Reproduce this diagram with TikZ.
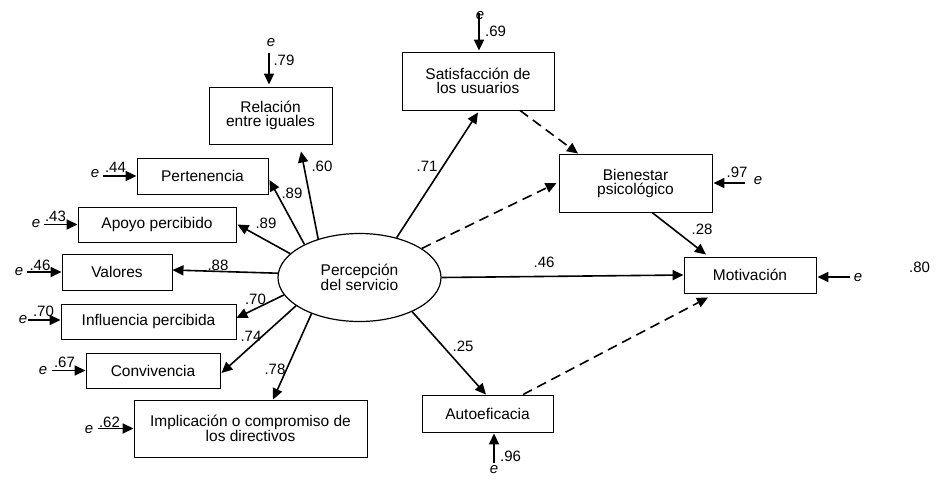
\documentclass[tikz,border=0pt]{standalone}
\usepackage{fontspec}
\setmainfont{Liberation Sans}
\usetikzlibrary{arrows.meta,shapes.geometric}
\begin{document}
\begin{tikzpicture}[x=1pt,y=-1pt,
  box/.style={draw, line width=0.9pt, inner sep=0pt, align=center, font=\fontsize{15.5}{14}\selectfont},
  lbl/.style={inner sep=0pt, font=\fontsize{15}{15}\selectfont},
  evar/.style={inner sep=0pt, font=\itshape\fontsize{15}{15}\selectfont},
  arr/.style={line width=1.6pt, -{Triangle[length=11pt,width=10pt]}},
  darr/.style={arr, dash pattern=on 10pt off 6pt}]
\useasboundingbox[fill=white] (0,0) rectangle (941,485);
% boxes
\node[box, minimum width=123pt, minimum height=57pt] (rel) at (270.5,115.5) {Relación\\entre iguales};
\node[box, minimum width=131pt, minimum height=36pt] (per) at (202.5,176) {Pertenencia};
\node[box, minimum width=158pt, minimum height=35pt] (apo) at (157,224.5) {Apoyo percibido};
\node[box, minimum width=110pt, minimum height=36pt] (val) at (117,272) {Valores};
\node[box, minimum width=175pt, minimum height=35pt] (inf) at (148.5,321.5) {Influencia percibida};
\node[box, minimum width=134pt, minimum height=35pt] (con) at (153,370.5) {Convivencia};
\node[box, minimum width=233pt, minimum height=57pt] (imp) at (250.5,428.5) {Implicación o compromiso de\\los directivos};
\node[box, minimum width=152pt, minimum height=58pt] (sat) at (478,81) {Satisfacción de\\los usuarios};
\node[box, minimum width=153pt, minimum height=58pt] (bie) at (635.5,183) {Bienestar\\psicológico};
\node[box, minimum width=132pt, minimum height=36pt] (mot) at (750,275) {Motivación};
\node[box, minimum width=131pt, minimum height=37pt] (aut) at (487.5,413.5) {Autoeficacia};
\node[box, ellipse, line width=1.2pt, minimum width=163pt, minimum height=88pt] (ell) at (359.5,277.5) {Percepción\\del servicio};
% structural paths
\draw[arr] (ell.137) -- ([xshift=30.5pt,yshift=-7pt]rel.south);
\draw[arr] (ell.149) -- ([xshift=1pt,yshift=-4pt]per.east);
\draw[arr] (ell.161) -- ([xshift=1pt]apo.east);
\draw[arr] (ell.177) -- ([yshift=2pt]val.east);
\draw[arr] (ell.193) -- ([yshift=3.5pt]inf.east);
\draw[arr] (ell.204) -- ([xshift=1pt,yshift=-2.5pt]con.east);
\draw[arr] (ell.217) -- ([xshift=22.5pt]imp.north);
\draw[arr] (ell.47) -- ([yshift=-2pt]sat.south);
\draw[darr] (ell.25) -- ([xshift=-2pt]bie.west);
\draw[darr] ([xshift=42pt]sat.south) -- ([xshift=-57.5pt]bie.north);
\draw[arr] (ell.east) -- (mot.west);
\draw[arr] ([xshift=16.5pt]bie.south) -- ([xshift=-44pt,yshift=2pt]mot.north);
\draw[arr] (ell.327) -- ([xshift=-1.5pt]aut.north);
\draw[darr] ([xshift=35.5pt]aut.north) -- ([xshift=-42pt,yshift=-4pt]mot.south);
% path labels
\node[lbl] (l60) at (322,166) {.60};
\node[lbl] (l89a) at (292,193) {.89};
\node[lbl] (l89b) at (266,223) {.89};
\node[lbl] (l88) at (218,265) {.88};
\node[lbl] (l70) at (255.5,299) {.70};
\node[lbl] (l74) at (251,336) {.74};
\node[lbl] (l78) at (275,369) {.78};
\node[lbl] (l71) at (427,166) {.71};
\node[lbl] (l28) at (702,229) {.28};
\node[lbl] (l46) at (544,262) {.46};
\node[lbl] (l25) at (463,346) {.25};
% error terms
\coordinate (cRel) at (269,53);
\coordinate (cSat) at (479,13);
\coordinate (cPer) at (103,176);
\coordinate (cApo) at (44,224.5);
\coordinate (cVal) at (27,272);
\coordinate (cInf) at (28,320);
\coordinate (cCon) at (52,370.5);
\coordinate (cImp) at (98,428.5);
\coordinate (cBie) at (745,183);
\coordinate (cMot) at (850,277);
\coordinate (cAut) at (494,463);
\draw[arr] (cRel) -- ([xshift=-1.5pt,yshift=2pt]rel.north);
\draw[arr] (cSat) -- ([xshift=1pt,yshift=1pt]sat.north);
\draw[arr] (cPer) -- (per.west);
\draw[arr] (cApo) -- (apo.west);
\draw[arr] (cVal) -- (val.west);
\draw[arr] (cInf) -- ([yshift=1.5pt]inf.west);
\draw[arr] (cCon) -- (con.west);
\draw[arr] (cImp) -- (imp.west);
\draw[arr] (cBie) -- ([xshift=1pt]bie.east);
\draw[arr] (cMot) -- ([xshift=1pt,yshift=-2pt]mot.east);
\draw[arr] (cAut) -- ([xshift=6.5pt,yshift=-1pt]aut.south);
\node[evar] (eRel) at (271,43) {e};
\node[evar] (eSat) at (480,16) {e};
\node[evar] (ePer) at (95,174) {e};
\node[evar] (eApo) at (36,224) {e};
\node[evar] (eVal) at (19,272) {e};
\node[evar] (eInf) at (23,320) {e};
\node[evar] (eCon) at (43,371) {e};
\node[evar] (eImp) at (89,430) {e};
\node[evar] (eBie) at (758,181) {e};
\node[evar] (eMot) at (858,278) {e};
\node[evar] (eAut) at (494,470) {e};
\node[lbl] (n79) at (284,60) {.79};
\node[lbl] (n69) at (495.5,31) {.69};
\node[lbl] (n44) at (115.5,167) {.44};
\node[lbl] (n43) at (55.5,216) {.43};
\node[lbl] (n46) at (40,265) {.46};
\node[lbl] (n70) at (43.5,311.5) {.70};
\node[lbl] (n67) at (64.5,362.5) {.67};
\node[lbl] (n62) at (109.5,422.5) {.62};
\node[lbl] (n97) at (737,172) {.97};
\node[lbl] (n80) at (919.5,267.5) {.80};
\node[lbl] (n96) at (510.5,456.5) {.96};
\end{tikzpicture}
\end{document}
